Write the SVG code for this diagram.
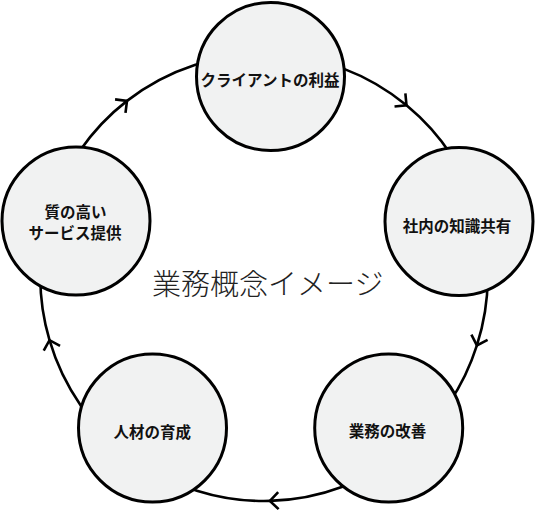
<svg xmlns="http://www.w3.org/2000/svg" width="536" height="512" viewBox="0 0 536 512">
  <style>
    .conn { fill: none; stroke: #000; stroke-width: 2.6; marker-mid: url(#chev); }
    .node { fill: #f1f2f2; stroke: #000; stroke-width: 3; }
    .lbl { font-family: "Noto Sans CJK JP", "Noto Sans CJK SC", sans-serif; font-size: 15.5px; font-weight: 700; fill: #111; text-anchor: middle; }
    .title { font-family: "Noto Sans CJK JP", "Noto Sans CJK SC", sans-serif; font-size: 29px; font-weight: 300; fill: #222; text-anchor: middle; }
  </style>
  <defs>
    <marker id="chev" markerUnits="userSpaceOnUse" orient="auto" viewBox="-12 -12 24 24" refX="0" refY="0" markerWidth="24" markerHeight="24" overflow="visible">
      <path d="M -8.5 -8.5 L 0 0 L -8.5 8.5" fill="none" stroke="#000" stroke-width="2.6" stroke-linecap="butt" stroke-linejoin="miter"/>
    </marker>
  </defs>
  <rect width="536" height="512" fill="#fff"/>
  <g id="connectors">
    <path class="conn" d="M 270.6 54.1 A 223.5 223.5 0 0 1 406.5 105.3 A 223.5 223.5 0 0 1 478.8 215.9"/>
    <path class="conn" d="M 478.8 215.9 A 223.5 223.5 0 0 1 476.9 345.4 A 223.5 223.5 0 0 1 406.5 449.7"/>
    <path class="conn" d="M 406.5 449.7 A 223.5 223.5 0 0 1 269.9 500.9 A 223.5 223.5 0 0 1 131.1 457.2"/>
    <path class="conn" d="M 131.1 457.2 A 223.5 223.5 0 0 1 49.5 340.2 A 223.5 223.5 0 0 1 49.9 213.3"/>
    <path class="conn" d="M 49.9 213.3 A 223.5 223.5 0 0 1 127.0 100.9 A 223.5 223.5 0 0 1 270.6 54.1"/>
  </g>
  <g id="node-client">
    <circle class="node" cx="270.5" cy="76.5" r="74"/>
    <text class="lbl" x="270" y="86">クライアントの利益</text>
  </g>
  <g id="node-knowledge">
    <circle class="node" cx="459" cy="221.5" r="74"/>
    <text class="lbl" x="457" y="231.5">社内の知識共有</text>
  </g>
  <g id="node-improve">
    <circle class="node" cx="388.7" cy="428" r="74"/>
    <text class="lbl" x="387.5" y="437">業務の改善</text>
  </g>
  <g id="node-talent">
    <circle class="node" cx="152.5" cy="428" r="74"/>
    <text class="lbl" x="152.2" y="438">人材の育成</text>
  </g>
  <g id="node-service">
    <circle class="node" cx="76" cy="221" r="74"/>
    <text class="lbl" x="75.5" y="218">質の高い</text>
    <text class="lbl" x="75" y="238.5">サービス提供</text>
  </g>
  <text class="title" x="267.7" y="295">業務概念イメージ</text>
</svg>
